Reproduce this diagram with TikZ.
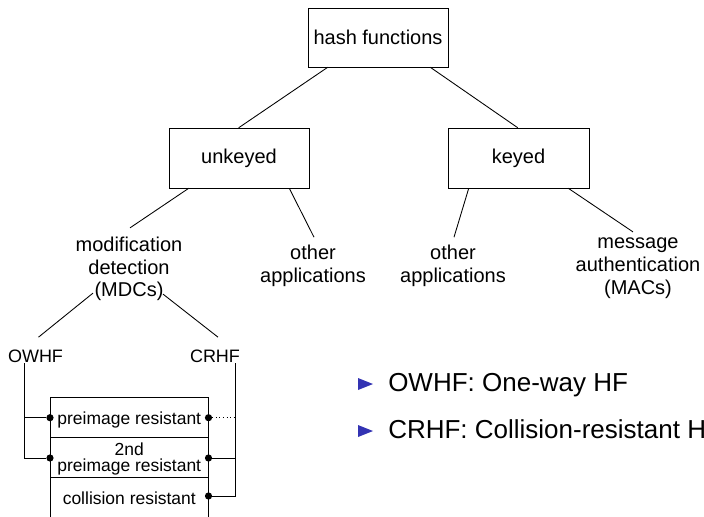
\documentclass[tikz,border=0pt]{standalone}
\usepackage{fontspec}
\setmainfont{Liberation Sans}
\usetikzlibrary{calc}
\definecolor{bulletblue}{RGB}{51,51,179}
\tikzset{
  box/.style={draw, rectangle, inner sep=0pt, font=\fontsize{15}{16.9}\selectfont},
  lbl/.style={inner sep=0pt, align=center, anchor=base, font=\fontsize{15}{16.9}\selectfont},
  prop/.style={inner sep=0pt, align=center, anchor=base, font=\fontsize{13.1}{12}\selectfont},
  kind/.style={inner sep=0pt, anchor=base, font=\fontsize{13.5}{16}\selectfont},
  itemtext/.style={inner sep=0pt, anchor=base west, font=\fontsize{19.5}{23}\selectfont},
  dot/.style={circle, fill=black, inner sep=0pt, minimum size=5.4pt},
  conn/.style={line width=0.65pt},
  bul/.style={fill=bulletblue, draw=none}
}

\begin{document}

\begin{tikzpicture}[x=0.75pt, y=-0.75pt]
\path[use as bounding box] (0,0) rectangle (704,517);
\clip (0,0) rectangle (704,517);

% tree boxes
\node[box, minimum width=105pt, minimum height=44.25pt] (hash) at (378,37.5) {hash functions};
\node[box, minimum width=105pt, minimum height=45pt] (unkeyed) at (239,158) {unkeyed};
\node[box, minimum width=105.75pt, minimum height=45pt] (keyed) at (518.5,158) {keyed};

% labels (anchor base = baseline of the last line)
\node[lbl] (mdc) at (129,296.7) {modification\\detection\\(MDCs)};
\node[lbl] (other1) at (313,282.5) {other\\applications};
\node[lbl] (other2) at (453,282.5) {other\\applications};
\node[lbl] (mac) at (638,294) {message\\authentication\\(MACs)};

\node[kind] (owhf) at (35.5,362) {OWHF};
\node[kind] (crhf) at (215,362) {CRHF};

% connectors of the tree
\draw[conn] ($(hash.south west)+(20,0)$) -- ($(unkeyed.north west)+(70,0)$);
\draw[conn] ($(hash.south east)+(-18,0)$) -- ($(keyed.north west)+(70,0)$);
\draw[conn] ($(unkeyed.south west)+(20,0)$) -- ($(mdc.north)+(1,-9)$);
\draw[conn] ($(unkeyed.south east)+(-20,0)$) -- ($(other1.north)+(1,-8)$);
\draw[conn] ($(keyed.south west)+(21,0)$) -- ($(other2.north)+(1,-8)$);
\draw[conn] ($(keyed.south east)+(-21,0)$) -- ($(mac.north)+(-5,-6)$);
\draw[conn] ($(mdc.south)+(-36,-8)$) -- ($(owhf.north)+(3,-12)$);
\draw[conn] ($(mdc.south)+(34,-7)$) -- ($(crhf.north)+(3,-12)$);

% property table
\coordinate (tl) at (50,397.7);
\coordinate (tr) at (208.5,397.7);
\draw[conn] (50,530) -- (tl) -- (tr) -- (208.5,530);
\draw[conn] (50,437.7) -- (208.5,437.7);
\draw[conn] (50,477.7) -- (208.5,477.7);

\node[prop] (pre) at (129.3,424) {preimage resistant};
\node[prop] (sec) at (129.3,471) {2nd\\preimage resistant};
\node[prop] (col) at (129.3,504) {collision resistant};

\node[dot] (d1) at (50,417.7) {};
\node[dot] (d2) at (50,458) {};
\node[dot] (d3) at (208.5,417.7) {};
\node[dot] (d4) at (208.5,458) {};
\node[dot] (d5) at (208.5,496) {};

% OWHF links
\coordinate (ow) at ($(owhf.south west)+(17,1)$);
\draw[conn] (ow) |- (d2);
\draw[conn] (ow |- d1) -- (d1);
% CRHF links
\coordinate (cr) at ($(crhf.south east)+(-5,1)$);
\draw[conn] (cr) |- (d5);
\draw[conn] (cr |- d4) -- (d4);
\draw[conn, dotted] (d3) -- (cr |- d3);

% bullet list
\fill[bul] (358,378) -- (373,384) -- (358,390) -- cycle;
\node[itemtext] (t1) at (388,391) {OWHF: One-way HF};
\fill[bul] (358,425) -- (373,431) -- (358,437) -- cycle;
\node[itemtext] (t2) at (388,438) {CRHF: Collision-resistant H};
\end{tikzpicture}

\end{document}
